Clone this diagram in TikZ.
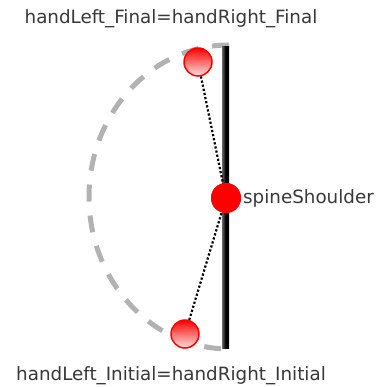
\documentclass[tikz,border=0pt]{standalone}
\usepackage{fontspec}
\setmainfont{DejaVu Sans}
\begin{document}
\begin{tikzpicture}[x=1pt,y=-1pt,
  lbl/.style={text=black!78, font=\fontsize{18.3}{20}\selectfont, inner sep=0pt},
  hand/.style={circle, minimum size=28pt, inner sep=0pt, draw=red, line width=1.5pt, top color=red, bottom color=red!12},
  spine/.style={circle, minimum size=30pt, inner sep=0pt, fill=red},
  conn/.style={black, line width=2.2pt, dotted}]
\useasboundingbox (0,0) rectangle (377,387);
% dashed arc
\draw[black!30, line width=5pt, dash pattern=on 17pt off 14pt]
  (229,45) arc[start angle=90, end angle=270, x radius=140pt, y radius=152pt];
% spine bar
\shade[left color=black!60, right color=black, middle color=black] (222,47) rectangle (229,348);
\node[spine] (sh) at (226,198) {};
\node[hand] (hf) at (198,62) {};
\node[hand] (hi) at (185,334) {};
\draw[conn] (hf) -- (sh.center);
\draw[conn] (hi) -- (sh.center);
\node[spine] at (226,198) {};
\node[lbl, anchor=west] (shl) at (243,198) {spineShoulder};
\node[lbl] (tl) at (171,19) {handLeft\_Final=handRight\_Final};
\node[lbl] (bl) at (171,376) {handLeft\_Initial=handRight\_Initial};
\end{tikzpicture}
\end{document}
